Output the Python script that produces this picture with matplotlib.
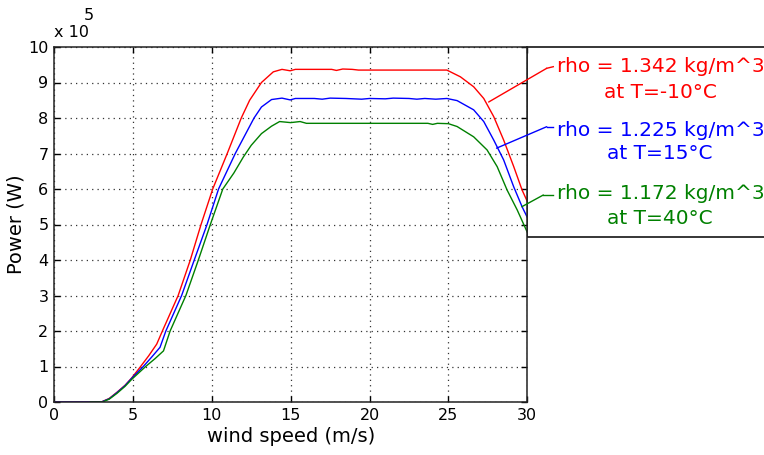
import matplotlib
matplotlib.use("Agg")
import matplotlib.pyplot as plt
from matplotlib.lines import Line2D
from matplotlib.patches import Rectangle

plt.rcParams['font.family'] = ['DejaVu Sans']

# ---------------- data (power in units of 1e5 W) ----------------
wind_red = [0, 3.0, 3.5, 3.98, 4.5, 4.93, 5.49, 6.0, 6.51, 6.87, 7.87, 8.64, 9.32,
            10.06, 10.98, 11.87, 12.4, 13.15, 13.9, 14.45, 14.97, 15.3, 17.6, 17.9,
            18.3, 18.9, 19.3, 24.9, 25.76, 26.6, 27.24, 27.87, 28.5, 29.14, 29.67, 30]
power_red = [0, 0, 0.1, 0.27, 0.47, 0.68, 1.0, 1.3, 1.63, 2.0, 3.0, 4.0, 5.0,
             6.0, 7.0, 8.0, 8.5, 9.0, 9.3, 9.37, 9.33, 9.37, 9.37, 9.34,
             9.38, 9.37, 9.35, 9.35, 9.16, 8.88, 8.55, 8.04, 7.38, 6.63, 5.97, 5.65]

wind_blue = [0, 3.0, 3.5, 3.98, 4.5, 4.93, 5.66, 6.2, 6.72, 7.09, 8.09, 8.89, 9.70,
             10.43, 11.49, 12.68, 13.15, 13.79, 14.45, 14.97, 15.3, 16.5, 17.0, 17.5,
             18.5, 19.5, 20.0, 21.0, 21.5, 22.5, 23.0, 23.5, 24.2, 24.9, 25.55, 26.6,
             27.24, 27.87, 28.5, 29.14, 29.67, 30]
power_blue = [0, 0, 0.09, 0.26, 0.46, 0.67, 1.0, 1.27, 1.54, 2.0, 3.0, 4.0, 5.0,
              6.0, 7.0, 8.0, 8.31, 8.52, 8.56, 8.51, 8.55, 8.55, 8.53, 8.56,
              8.55, 8.53, 8.55, 8.54, 8.56, 8.55, 8.53, 8.55, 8.53, 8.55, 8.49, 8.23,
              7.9, 7.38, 6.82, 6.06, 5.5, 5.2]

wind_green = [2.3, 3.05, 3.5, 3.98, 4.5, 4.93, 5.81, 6.4, 6.94, 7.36, 8.36, 9.15, 9.91,
              10.70, 11.4, 12.0, 12.5, 13.15, 13.79, 14.3, 15.0, 15.6, 16.0, 23.7,
              24.0, 24.3, 25.0, 25.55, 26.6, 27.45, 28.09, 28.72, 29.36, 30]
power_green = [0, 0, 0.08, 0.24, 0.44, 0.64, 1.0, 1.22, 1.44, 2.0, 3.0, 4.0, 5.0,
               6.0, 6.45, 6.9, 7.23, 7.56, 7.77, 7.9, 7.87, 7.9, 7.85, 7.85,
               7.82, 7.85, 7.84, 7.76, 7.47, 7.1, 6.63, 5.97, 5.41, 4.78]

x_ticks = [0, 5, 10, 15, 20, 25, 30]
y_ticks = [0, 1, 2, 3, 4, 5, 6, 7, 8, 9, 10]

labels = [("rho = 1.342 kg/m^3", "at T=-10°C"),
          ("rho = 1.225 kg/m^3", "at T=15°C"),
          ("rho = 1.172 kg/m^3", "at T=40°C")]
colors = ["#ff0000", "#0000ff", "#008000"]

# ---------------- figure ----------------
W, H = 764, 455
fig = plt.figure(figsize=(W / 100, H / 100), dpi=100)
fig.patch.set_facecolor("white")

L, R, T, B = 54, 527.3, 47, 402
ax = fig.add_axes([L / W, 1 - B / H, (R - L) / W, (B - T) / H])

ax.plot(wind_red, power_red, color=colors[0], lw=1.0)
ax.plot(wind_blue, power_blue, color=colors[1], lw=1.0)
ax.plot(wind_green, power_green, color=colors[2], lw=1.0)

ax.set_xlim(0, 30)
ax.set_ylim(0, 10)
ax.set_xticks(x_ticks)
ax.set_yticks(y_ticks)
ax.grid(True, color="#333333", linestyle=(0, (1, 3.3)), lw=0.9)
ax.tick_params(direction="in", length=4, width=1.0, top=True, right=True,
               labelsize=11.5, pad=4, colors="black")
for s in ax.spines.values():
    s.set_linewidth(1.1)
    s.set_color("#222222")

ax.set_xlabel("wind speed (m/s)", fontsize=14, labelpad=3)
ax.set_ylabel("Power (W)", fontsize=14, labelpad=2)

# "x 10^5" multiplier
fig.text(54 / W, 1 - 32.7 / H, "x 10", fontsize=11.5, ha="left", va="center")
fig.text(84 / W, 1 - 16 / H, "5", fontsize=11.5, ha="left", va="center")

# legend box (behind the axes and the leader lines)
fig.add_artist(Rectangle((R / W, 1 - 236.5 / H), 0.35, (236.5 - 47) / H,
                         transform=fig.transFigure, facecolor="white",
                         edgecolor="black", lw=1.1, clip_on=False, zorder=-1))

# text lines and leader lines
text_y = [(66.7, 93.0), (130.0, 153.5), (193.3, 218.3)]
start_pts = [(27.55, 8.45), (28.05, 7.15), (29.65, 5.5)]
corners = [(546.7, 68.3), (546.7, 126.7), (543.3, 195.0)]
ends = [(553.3, 66.7), (553.3, 126.7), (553.3, 195.0)]
for i in range(3):
    c = colors[i]
    fig.text(661 / W, 1 - text_y[i][0] / H, labels[i][0], color=c, fontsize=14.5,
             ha="center", va="center")
    fig.text(660 / W, 1 - text_y[i][1] / H, labels[i][1], color=c, fontsize=14.5,
             ha="center", va="center")
    cx, cy = corners[i]
    ax.annotate("", xy=start_pts[i], xycoords="data",
                xytext=(cx / W, 1 - cy / H), textcoords="figure fraction",
                arrowprops=dict(arrowstyle="-", color=c, lw=1.0,
                                shrinkA=0, shrinkB=0), annotation_clip=False)
    ex, ey = ends[i]
    fig.add_artist(Line2D([cx / W, ex / W], [1 - cy / H, 1 - ey / H],
                          transform=fig.transFigure, color=c, lw=1.0))

fig.savefig("out.png", dpi=100)
